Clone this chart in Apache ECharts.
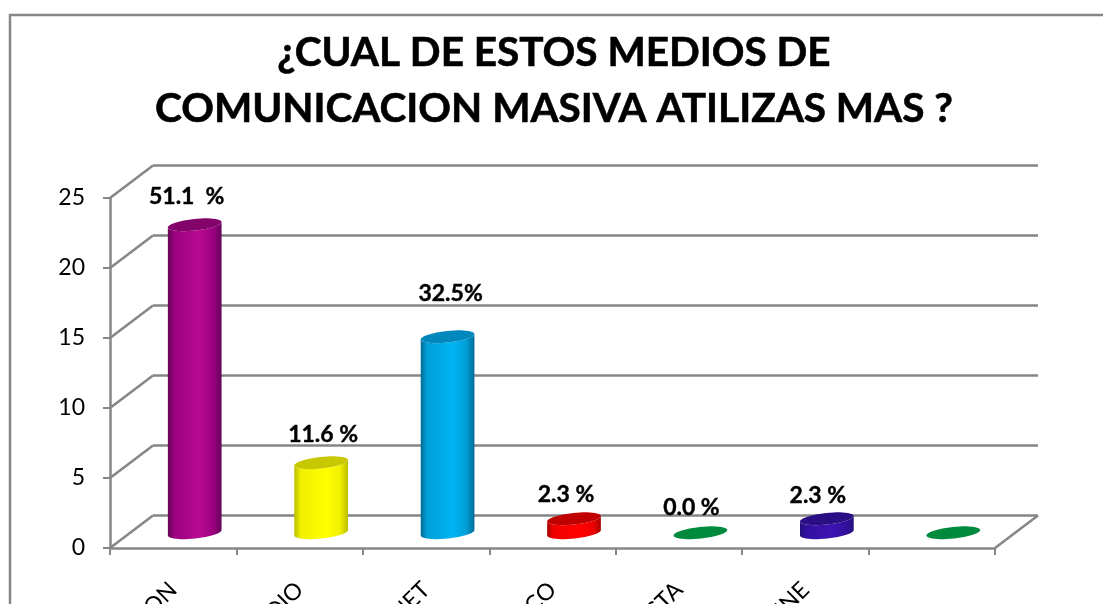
<!DOCTYPE html>
<html><head><meta charset="utf-8">
<style>html,body{margin:0;padding:0;background:#fff;overflow:hidden}#c{width:1103px;height:604px}</style>
<script src="https://cdn.jsdelivr.net/npm/echarts@6/dist/echarts.min.js"></script>
</head><body><div id="c"></div>
<script>
const titleLines = ['¿CUAL DE ESTOS MEDIOS DE', 'COMUNICACION MASIVA ATILIZAS MAS ?'];
const categories = ['TELEVISION', 'RADIO', 'INTERNET', 'PERIODICO', 'REVISTA', 'CINE', ' '];
const values = [22, 5, 14, 1, 0, 1, 0];
const percentLabels = ['51.1  %', '11.6 %', '32.5%', '2.3 %', '0.0 %', '2.3 %', ''];
const yTicks = [0, 5, 10, 15, 20, 25];

const barStyles = [
  { edge: '#640556', mid: '#9a0080', hi: '#b80a92', cap: '#84036b' },
  { edge: '#bcbc00', mid: '#f0f000', hi: '#ffff00', cap: '#c8c800' },
  { edge: '#006a94', mid: '#009fd8', hi: '#00b4f4', cap: '#0088bd' },
  { edge: '#a80000', mid: '#f00000', hi: '#ff0000', cap: '#c00000' },
  { edge: '#008a3e', mid: '#008a3e', hi: '#008a3e', cap: '#008a3e' },
  { edge: '#24107a', mid: '#3410a0', hi: '#3c14b4', cap: '#2a0e84' },
  { edge: '#008a3e', mid: '#008a3e', hi: '#008a3e', cap: '#008a3e' }
];
const labelOffsets = [[-8, -28], [2, -28], [3, -43], [-8, -24], [-9, -25], [-9, -23], [0, 0]];

const FONT = 'Lato';
const GRID_LINE = '#868686';
const LINE_W = 2.5;
const DEPTH_X = 43, DEPTH_Y = -32.5;
const RX = 27, RY = 5.8, TILT = -6 * Math.PI / 180;

function ell(cx, cy, t) {
  const c = Math.cos(t), s = Math.sin(t);
  return [cx + RX * c * Math.cos(TILT) - RY * s * Math.sin(TILT),
          cy + RX * c * Math.sin(TILT) + RY * s * Math.cos(TILT)];
}
function ellipsePts(cx, cy) {
  const p = [];
  for (let k = 0; k < 48; k++) p.push(ell(cx, cy, k / 48 * Math.PI * 2));
  return p;
}

function renderBar(params, api) {
  const i = api.value(0), v = api.value(1);
  const top = api.coord([i, v]), base = api.coord([i, 0]);
  const st = barStyles[i];
  const children = [];
  if (v > 0) {
    const pts = [];
    for (let k = 0; k <= 24; k++) pts.push(ell(base[0], base[1], k / 24 * Math.PI));
    for (let k = 24; k >= 0; k--) pts.push(ell(top[0], top[1], k / 24 * Math.PI));
    children.push({
      type: 'polygon', shape: { points: pts },
      style: {
        fill: new echarts.graphic.LinearGradient(0, 0, 1, 0, [
          { offset: 0, color: st.edge }, { offset: 0.12, color: st.mid },
          { offset: 0.6, color: st.hi }, { offset: 0.85, color: st.mid },
          { offset: 1, color: st.edge }
        ])
      }
    });
  }
  children.push({ type: 'polygon', shape: { points: ellipsePts(top[0], top[1]) }, style: { fill: st.cap } });
  return { type: 'group', children };
}

function renderDiagonal(params, api) {
  const v = api.value(1), cs = params.coordSys;
  const y = api.coord([0, v])[1];
  const x = v === 0 && api.value(0) === 1 ? cs.x + cs.width : cs.x;
  return {
    type: 'line',
    shape: { x1: x, y1: y, x2: x + DEPTH_X, y2: y + DEPTH_Y },
    style: { stroke: GRID_LINE, lineWidth: LINE_W }
  };
}

const W = 885, H = 350;
const option = {
  animation: false,
  backgroundColor: '#ffffff',
  textStyle: { fontFamily: FONT },
  graphic: [{
    type: 'rect', silent: true, z: -1,
    shape: { x: 10, y: 15, width: 1300, height: 900 },
    style: { fill: 'none', stroke: GRID_LINE, lineWidth: LINE_W }
  }],
  title: {
    text: titleLines.join('\n'),
    left: 549, top: 20, textAlign: 'center',
    textStyle: { fontFamily: FONT, fontWeight: 700, fontSize: 40.5, lineHeight: 56, color: '#000', textBorderColor: '#000', textBorderWidth: 0.6 }
  },
  grid: [
    { left: 110, top: 198, width: W, height: H, outerBoundsMode: 'none' },
    { left: 110 + DEPTH_X, top: 198 + DEPTH_Y, width: W, height: H, outerBoundsMode: 'none' },
    { left: 110 + DEPTH_X / 2, top: 199 + DEPTH_Y / 2, width: W, height: H, outerBoundsMode: 'none' }
  ],
  xAxis: [
    {
      gridIndex: 0, type: 'category', data: categories,
      axisLine: { lineStyle: { color: GRID_LINE, width: LINE_W } },
      axisTick: { show: true, length: 7, lineStyle: { color: GRID_LINE, width: 2 } },
      axisLabel: { interval: 0, rotate: 45, margin: 38, fontFamily: FONT, fontSize: 23, color: '#000' }
    },
    { gridIndex: 1, type: 'category', data: categories, show: false },
    { gridIndex: 2, type: 'category', data: categories, show: false }
  ],
  yAxis: [
    {
      gridIndex: 0, type: 'value', min: 0, max: 25, interval: 5,
      axisLine: { show: true, lineStyle: { color: GRID_LINE, width: LINE_W } },
      axisTick: { show: true, length: 7, lineStyle: { color: GRID_LINE, width: 2 } },
      axisLabel: { margin: 25, fontFamily: FONT, fontSize: 23, color: '#000', padding: [8, 0, 0, 0] },
      splitLine: { show: false }
    },
    {
      gridIndex: 1, type: 'value', min: 0, max: 25, interval: 5,
      axisLine: { show: false }, axisTick: { show: false }, axisLabel: { show: false },
      splitLine: { show: true, lineStyle: { color: GRID_LINE, width: LINE_W } }
    },
    {
      gridIndex: 2, type: 'value', min: 0, max: 25, interval: 5,
      axisLine: { show: false }, axisTick: { show: false }, axisLabel: { show: false }, splitLine: { show: false }
    }
  ],
  series: [
    {
      type: 'custom', xAxisIndex: 0, yAxisIndex: 0, z: 1, silent: true,
      renderItem: renderDiagonal, encode: { x: 0, y: 1 },
      data: yTicks.map(t => [0, t]).concat([[1, 0]])
    },
    {
      type: 'custom', name: 'MEDIOS', xAxisIndex: 2, yAxisIndex: 2, z: 3,
      renderItem: renderBar, encode: { x: 0, y: 1 },
      data: values.map((v, i) => [i, v])
    },
    {
      type: 'scatter', xAxisIndex: 2, yAxisIndex: 2, z: 4, symbolSize: 0, silent: true,
      itemStyle: { opacity: 1 },
      data: values.map((v, i) => ({
        value: [i, v],
        label: {
          show: true, position: 'inside', offset: labelOffsets[i],
          formatter: percentLabels[i], opacity: 1,
          fontFamily: FONT, fontWeight: 700, fontSize: 23, color: '#000',
          textBorderColor: '#000', textBorderWidth: 0.4
        }
      }))
    }
  ]
};
const chart = echarts.init(document.getElementById('c'), null, { renderer: 'canvas' });
chart.setOption(option);
</script></body></html>
